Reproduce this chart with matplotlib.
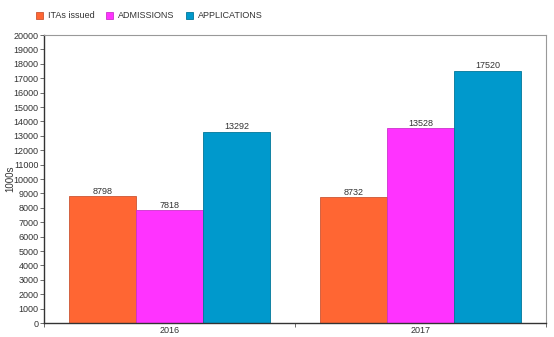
import matplotlib.pyplot as plt
import numpy as np

plt.rcParams['font.family'] = ['Liberation Sans', 'DejaVu Sans']

years = ['2016', '2017']
series_names = ['ITAs issued', 'ADMISSIONS', 'APPLICATIONS']
itas = [8798, 8732]
admissions = [7818, 13528]
applications = [13292, 17520]
colors = ['#FF6633', '#FF33FF', '#0099CC']
edges = ['#CC5533', '#CC33CC', '#007799']

fig = plt.figure(figsize=(5.54, 3.37), dpi=100)
ax = fig.add_axes([0.0794, 0.0415, 0.9062, 0.8545])

x = np.arange(len(years))
width = 0.8 / 3
for i, (vals, name) in enumerate(zip([itas, admissions, applications], series_names)):
    pos = x + (i - 1) * width
    bars = ax.bar(pos, vals, width, color=colors[i], edgecolor=edges[i],
                  linewidth=0.6, label=name)
    for b, v in zip(bars, vals):
        ax.text(b.get_x() + b.get_width() / 2, v + 30, str(v), ha='center', va='bottom',
                fontsize=6.5, color='#333333',
                bbox=dict(facecolor='white', edgecolor='none', pad=0.3))

ax.set_xlim(-0.5, 1.5)
ax.set_ylim(0, 20000)
ax.set_yticks(range(0, 20001, 1000))
ax.tick_params(axis='y', labelsize=6.5, length=3, width=0.6, colors='#555555',
               labelcolor='#333333', pad=1)
ax.set_xticks(x)
ax.set_xticklabels(years)
ax.set_xticks([-0.5, 0.5, 1.5], minor=True)
ax.tick_params(axis='x', which='major', length=0, labelsize=6.5, labelcolor='#333333', pad=2)
ax.tick_params(axis='x', which='minor', length=3, width=0.6, colors='#555555')
ax.set_ylabel('1000s', fontsize=7, color='#333333', labelpad=0)
ax.yaxis.set_label_coords(-0.058, 0.5)

ax.spines['left'].set_color('#333333')
ax.spines['bottom'].set_color('#333333')
ax.spines['left'].set_linewidth(1.0)
ax.spines['bottom'].set_linewidth(1.0)
ax.spines['top'].set_color('#999999')
ax.spines['right'].set_color('#999999')

fig.legend(loc='upper left', bbox_to_anchor=(0.05, 0.99), ncol=3, fontsize=6.5,
           frameon=False, handlelength=0.8, handleheight=0.8, columnspacing=1.3,
           handletextpad=0.5, labelcolor='#333333')

fig.savefig('out.png', dpi=100)
